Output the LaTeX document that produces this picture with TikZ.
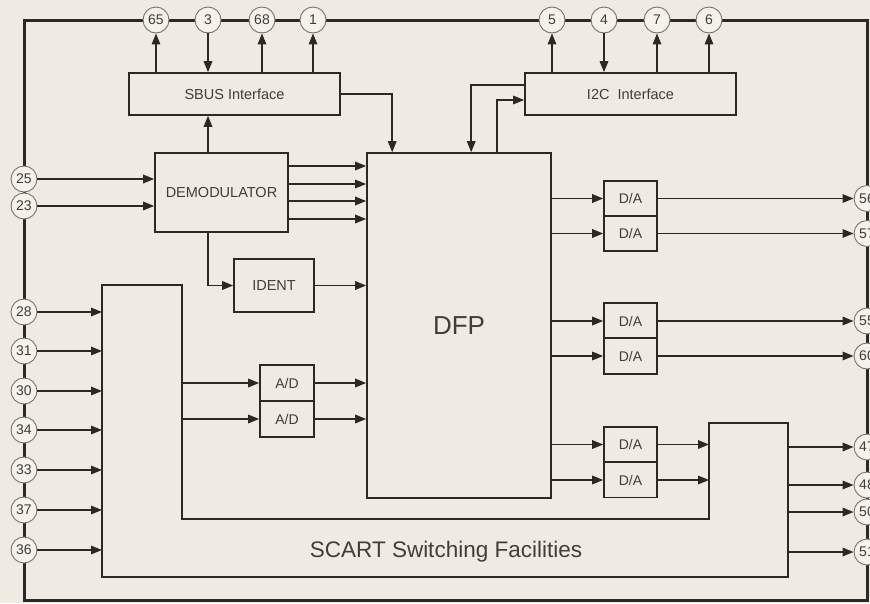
\documentclass[tikz,border=0pt]{standalone}
\usepackage{fontspec}
\setsansfont{Liberation Sans}
\usetikzlibrary{arrows.meta,positioning,calc}
\definecolor{paper}{HTML}{EFEAE2}
\definecolor{ink}{HTML}{2B2826}
\definecolor{label}{HTML}{403D3A}
\definecolor{pinring}{HTML}{77726D}
\definecolor{pinfill}{HTML}{F5F1EB}

\begin{document}
\begin{tikzpicture}[
  x=1pt, y=-1pt,
  font=\sffamily,
  >={Triangle[length=11pt,width=8.5pt]},
  blockbox/.style={
    draw=ink,
    fill=paper,
    line width=1.6pt,
    inner sep=0pt,
    text=label,
    font=\sffamily\fontsize{14.5}{16}\selectfont
  },
  convbox/.style={
    blockbox,
    minimum width=53pt,
    minimum height=35pt,
    font=\sffamily\fontsize{14}{16}\selectfont
  },
  pincirc/.style={
    circle,
    draw=pinring,
    fill=pinfill,
    line width=0.9pt,
    minimum size=26pt,
    inner sep=0pt,
    text=label,
    font=\sffamily\fontsize{14}{16}\selectfont
  },
  sigline/.style={
    ->,
    line width=1.6pt,
    draw=ink
  },
  frameline/.style={
    line width=3pt,
    draw=ink
  }
]

  \useasboundingbox[fill=paper] (0,0) rectangle (870,603);

  % =========================================================================
  % CHIP OUTLINE AND PINS
  % =========================================================================
  \draw[frameline] (24,20) rectangle (867,600);

  \foreach \n/\x in {65/156,3/208,68/262,1/313,5/552,4/604,7/657,6/709}
    \node[pincirc] (p\n) at (\x,20) {\n};
  \foreach \n/\y in {25/179,23/206,28/312,31/351,30/391,34/430,33/470,37/510,36/550}
    \node[pincirc] (p\n) at (24,\y) {\n};
  \foreach \n/\y in {56/198.5,57/233.5,55/321,60/356,47/447,48/485,50/512,51/552}
    \node[pincirc] (p\n) at (867,\y) {\n};

  % =========================================================================
  % BLOCKS
  % =========================================================================
  \node[blockbox, minimum width=211pt, minimum height=42pt] (sbus) at (234.5,94) {SBUS Interface};
  \node[blockbox, minimum width=211pt, minimum height=42pt] (i2c) at (630.5,94) {I2C\ \ Interface};
  \node[blockbox, minimum width=133pt, minimum height=79pt] (demod) at (221.5,192.5) {DEMODULATOR};
  \node[blockbox, minimum width=80pt, minimum height=53pt] (ident) at (274,285.5) {IDENT};
  \node[blockbox, minimum width=184pt, minimum height=345pt, font=\sffamily\fontsize{26}{30}\selectfont] (dfp) at (459,325.5) {DFP};

  \node[convbox, minimum width=54pt, minimum height=36pt] (ad1) at (287,383) {A/D};
  \node[convbox, minimum width=54pt, minimum height=36pt] (ad2) at (287,419) {A/D};

  \node[convbox] (da1) at (630.5,198.5) {D/A};
  \node[convbox] (da2) at (630.5,233.5) {D/A};
  \node[convbox, minimum height=36pt] (da3) at (630.5,321) {D/A};
  \node[convbox, minimum height=36pt] (da4) at (630.5,356) {D/A};
  \node[convbox] (da5) at (630.5,444.5) {D/A};
  \node[convbox] (da6) at (630.5,480) {D/A};

  % SCART switching block
  \coordinate (scartTL) at (102,285);
  \coordinate (scartIT) at (182,285);
  \coordinate (scartIB) at (182,519);
  \coordinate (scartMB) at (709,519);
  \coordinate (scartMT) at (709,423);
  \coordinate (scartRT) at (788,423);
  \coordinate (scartRB) at (788,577);
  \coordinate (scartLB) at (102,577);
  \draw[line width=1.6pt, draw=ink] (scartTL) -- (scartIT) -- (scartIB) -- (scartMB) -- (scartMT)
    -- (scartRT) -- (scartRB) -- (scartLB) -- cycle;
  \node[text=label, font=\sffamily\fontsize{22.5}{26}\selectfont] (scart) at (446,552) {SCART\ Switching Facilities};

  % =========================================================================
  % CONNECTIONS
  % =========================================================================
  % bus interfaces
  \foreach \n in {65,68,1}
    \draw[sigline] (p\n |- sbus.north) -- (p\n);
  \draw[sigline] (p3) -- (p3 |- sbus.north);
  \foreach \n in {5,7,6}
    \draw[sigline] (p\n |- i2c.north) -- (p\n);
  \draw[sigline] (p4) -- (p4 |- i2c.north);

  \draw[sigline] (sbus.east) -| ([xshift=26pt]dfp.north west);
  \draw[sigline] ([yshift=9pt]i2c.west) -| ([xshift=105pt]dfp.north west);
  \draw[sigline] ([xshift=131pt]dfp.north west) |- ([yshift=-6pt]i2c.west);

  % demodulator
  \draw[sigline] (p25) -- (p25 -| demod.west);
  \draw[sigline] (p23) -- (p23 -| demod.west);
  \draw[sigline] (p3 |- demod.north) -- (p3 |- sbus.south);
  \foreach \dy in {26.5,8.5,-8.5,-26.5}
    \draw[sigline] ([yshift=\dy pt]demod.east) -- ([yshift=\dy pt]demod.east -| dfp.west);
  \draw[sigline] (p3 |- demod.south) |- (ident.west);
  \draw[sigline] (ident.east) -- (ident.east -| dfp.west);

  % SCART inputs and A/D
  \foreach \n in {28,31,30,34,33,37,36}
    \draw[sigline] (p\n) -- (p\n -| scartLB);
  \draw[sigline] (ad1.west -| scartIB) -- (ad1.west);
  \draw[sigline] (ad2.west -| scartIB) -- (ad2.west);
  \draw[sigline] (ad1.east) -- (ad1.east -| dfp.west);
  \draw[sigline] (ad2.east) -- (ad2.east -| dfp.west);

  % D/A outputs
  \foreach \k in {1,...,6}
    \draw[sigline] (da\k.west -| dfp.east) -- (da\k.west);
  \draw[sigline] (da1.east) -- (p56);
  \draw[sigline] (da2.east) -- (p57);
  \draw[sigline] (da3.east) -- (p55);
  \draw[sigline] (da4.east) -- (p60);
  \draw[sigline] (da5.east) -- (da5.east -| scartMT);
  \draw[sigline] (da6.east) -- (da6.east -| scartMT);

  % SCART outputs
  \foreach \n in {47,48,50,51}
    \draw[sigline] (p\n -| scartRB) -- (p\n);

\end{tikzpicture}
\end{document}
